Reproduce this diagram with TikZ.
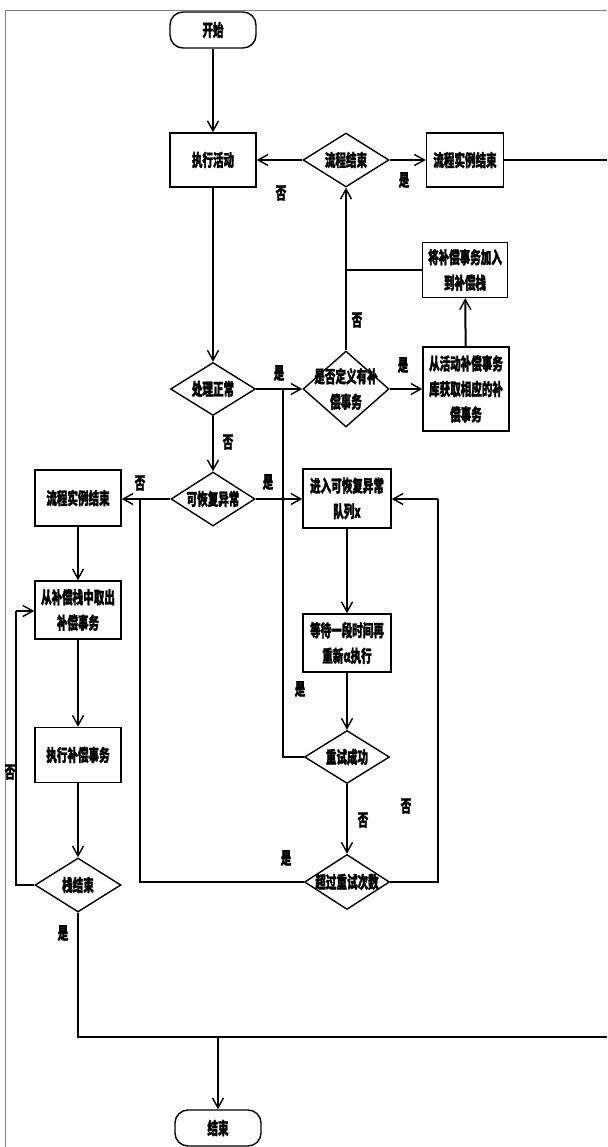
\documentclass[tikz,border=0pt]{standalone}
\usepackage{fontspec}
\setmainfont{Noto Sans CJK SC}[FakeStretch=0.62, BoldFeatures={FakeBold=1.5}]
\usetikzlibrary{shapes.geometric,arrows.meta}
\newcommand{\fz}{\fontsize{17}{25.5}\selectfont\bfseries}
\tikzset{
  box/.style={draw, line width=1.4pt, minimum width=86pt, minimum height=54pt, inner sep=0pt, align=center, font=\fz},
  term/.style={box, rounded corners=13pt, minimum height=36pt},
  dia/.style={diamond, draw, line width=1.4pt, inner sep=0pt, minimum width=86pt, minimum height=54pt},
  dtext/.style={font=\fz, align=center, inner sep=0pt},
  lab/.style={font=\fz, inner sep=0pt},
  conn/.style={line width=2pt},
  arr/.style={conn, -{Straight Barb[length=10pt,width=11pt,line width=1.4pt]}},
}
\begin{document}
\begin{tikzpicture}[x=1pt,y=-1pt]
\useasboundingbox (0,0) rectangle (607,1147);
\draw[gray, line width=0.8pt] (5,1147) -- (5,10) -- (607,10);

% nodes
\node[term] (start) at (213,30) {开始};
\node[box] (exec) at (213,160) {执行活动};
\node[dia] (pend) at (346,160) {};
\node[dtext] (pendt) at (pend) {流程结束};
\node[box, minimum width=77pt] (inst1) at (465,160) {流程实例结束};
\node[box, minimum width=85pt, minimum height=55pt] (push) at (465,270) {将补偿事务加入\\到补偿栈};
\node[dia, minimum width=85pt, minimum height=53pt] (norm) at (213,389) {};
\node[dtext] (normt) at (norm) {处理正常};
\node[dia, minimum height=76pt] (def) at (346,389) {};
\node[dtext] (deft) at (def) {是否定义有补\\偿事务};
\node[box, minimum height=84pt] (get) at (466,389) {从活动补偿事务\\库获取相应的补\\偿事务};
\node[dia, minimum width=84pt] (rec) at (213,499) {};
\node[dtext] (rect) at (rec) {可恢复异常};
\node[box, minimum height=56pt] (inst2) at (78,498) {流程实例结束};
\node[box, minimum width=88pt, minimum height=59pt] (queue) at (347,498.5) {进入可恢复异常\\队列x};
\node[box, minimum height=58pt] (take) at (78,610) {从补偿栈中取出\\补偿事务};
\node[box, minimum width=88pt, minimum height=58pt] (wait) at (347,643) {等待一段时间再\\重新α执行};
\node[box, minimum height=55pt] (comp) at (78,755) {执行补偿事务};
\node[dia, minimum width=85pt, minimum height=53pt] (retry) at (347,757) {};
\node[dtext] (retryt) at (retry) {重试成功};
\node[dia] (stk) at (78,885) {};
\node[dtext] (stkt) at (stk) {栈结束};
\node[dia, minimum width=85pt, minimum height=55pt] (over) at (347,882) {};
\node[dtext] (overt) at (over) {超过重试次数};
\node[term] (end) at (218,1128) {结束};

% coordinates
\coordinate (r1) at (607,160);
\coordinate (j1) at (347,270);
\coordinate (jx) at (283,389);
\coordinate (jr) at (283,757);
\coordinate (lx1) at (140,882);
\coordinate (lx2) at (140,499);
\coordinate (rx1) at (438,882);
\coordinate (rx2) at (438,499);
\coordinate (sx1) at (16,885);
\coordinate (sx2) at (16,611);
\coordinate (b1) at (78,1037);
\coordinate (b2) at (607,1037);
\coordinate (b3) at (218,1037);

% connectors
\draw[arr] (start) -- (exec);
\draw[arr] (exec) -- (norm);
\draw[arr] (norm) -- (rec);
\draw[arr] (norm.east) -- (def.west);
\draw[arr] (def.east) -- (get.west);
\draw[arr] (get) -- (push);
\draw[conn] (push.west) -- (j1);
\draw[arr] (def.north) -- (pend.south);
\draw[arr] (pend.west) -- (exec.east);
\draw[arr] (pend.east) -- (inst1.west);
\draw[conn] (inst1.east) -- (r1);
\draw[arr] (rec.west) -- (rec.west -| inst2.east);
\draw[arr] (rec.east) -- (rec.east -| queue.west);
\draw[arr] (inst2) -- (take);
\draw[arr] (take) -- (comp);
\draw[arr] (comp) -- (stk);
\draw[conn] (stk.west) -- (sx1) -- (sx2);
\draw[arr] (sx2) -- (sx2 -| take.west);
\draw[conn] (stk.south) -- (b1) -- (b2);
\draw[arr] (b3) -- (end.north);
\draw[arr] (queue) -- (wait);
\draw[arr] (wait) -- (retry);
\draw[conn] (retry.west) -- (jr) -- (jx);
\fill (283,499) circle (2pt);
\draw[arr] (retry) -- (over);
\draw[conn] (over.west) -- (lx1) -- (lx2);
\draw[conn] (over.east) -- (rx1) -- (rx2);
\draw[arr] (rx2) -- (rx2 -| queue.east);

% labels
\node[lab] (l1) at (281,193) {否};
\node[lab] (l2) at (404,180) {是};
\node[lab] (l3) at (357,320) {否};
\node[lab] (l4) at (279,373) {是};
\node[lab] (l5) at (403,365) {是};
\node[lab] (l6) at (228,442) {否};
\node[lab] (l7) at (140,483) {否};
\node[lab] (l8) at (268,482) {是};
\node[lab] (l9) at (300,689) {是};
\node[lab] (l10) at (10,772) {否};
\node[lab] (l11) at (363,820) {否};
\node[lab] (l12) at (406,806) {否};
\node[lab] (l13) at (286,858) {是};
\node[lab] (l14) at (63,933) {是};
\end{tikzpicture}
\end{document}
